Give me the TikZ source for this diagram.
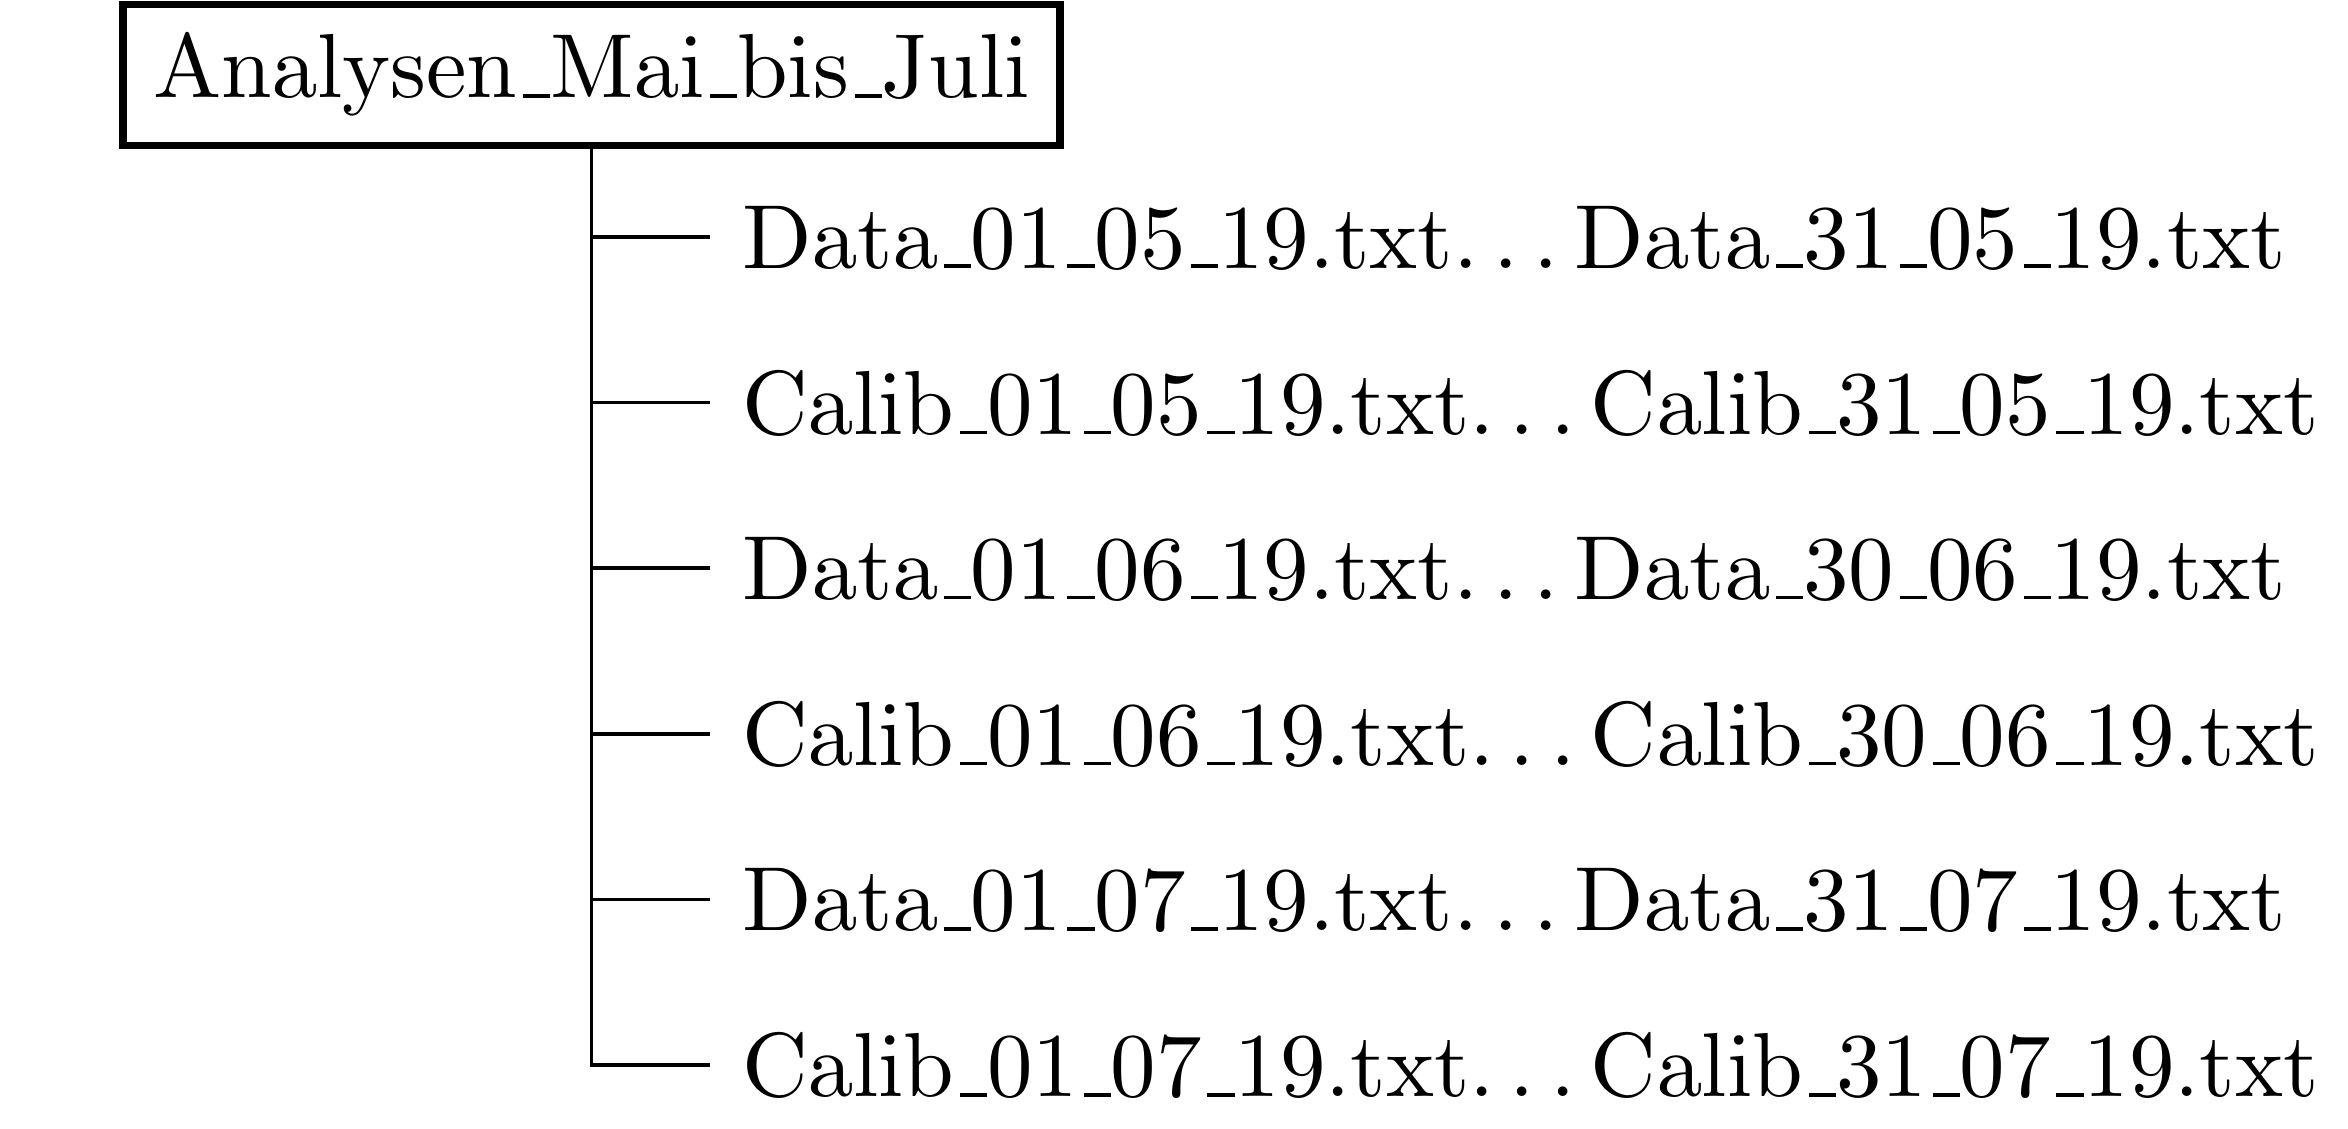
\documentclass[tikz,border=0pt]{standalone}
\usepackage[OT1]{fontenc}
\usepackage{tikz}
\usetikzlibrary{trees,calc,positioning}
\tikzstyle{root node}=[draw,thick]
\tikzstyle{file node}=[anchor=west]

\begin{document}
\begin{tikzpicture}[x=0.1099pt,y=-0.1099pt]
		\useasboundingbox (0,0) rectangle (2348,1128);
		\node(root)[root node] at (591.5,75) {Analysen\_Mai\_bis\_Juli}
		    [grow via three points={one child at (118.5,162) and two children at (118.5,162) and (118.5,327.6)},
		     edge from parent path={(\tikzparentnode.south) |- (\tikzchildnode.west)}]
		    child { node(d05)[file node]{Data\_01\_05\_19.txt\ldots Data\_31\_05\_19.txt} }
		    child { node(c05)[file node]{Calib\_01\_05\_19.txt\ldots Calib\_31\_05\_19.txt} }
		    child { node(d06)[file node]{Data\_01\_06\_19.txt\ldots Data\_30\_06\_19.txt} }
		    child { node(c06)[file node]{Calib\_01\_06\_19.txt\ldots Calib\_30\_06\_19.txt} }
		    child { node(d07)[file node]{Data\_01\_07\_19.txt\ldots Data\_31\_07\_19.txt} }
		    child { node(c07)[file node]{Calib\_01\_07\_19.txt\ldots Calib\_31\_07\_19.txt} };

		\end{tikzpicture}
\end{document}
